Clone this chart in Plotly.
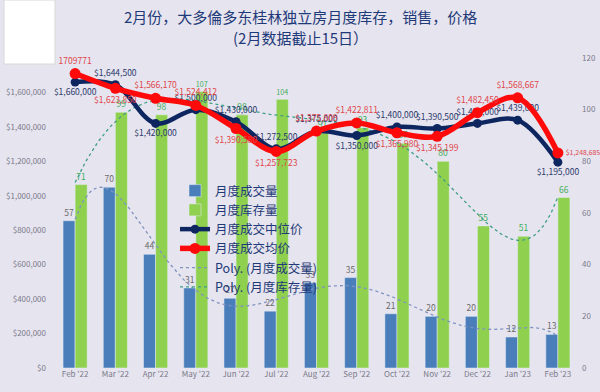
import numpy as np
import plotly.graph_objects as go

months = ["Feb '22", "Mar '22", "Apr '22", "May '22", "Jun '22", "Jul '22", "Aug '22",
          "Sep '22", "Oct '22", "Nov '22", "Dec '22", "Jan '23", "Feb '23"]
sales = [57, 70, 44, 31, 27, 22, 33, 35, 21, 20, 20, 12, 13]
inventory = [71, 99, 98, 107, 98, 104, 91, 93, 87, 80, 55, 51, 66]
median_price = [1660000, 1644500, 1420000, 1500000, 1430000, 1272500, 1375000,
                1350000, 1400000, 1390500, 1420000, 1439000, 1195000]
avg_price = [1709771, 1623850, 1566170, 1524412, 1390580, 1257723, 1375809,
             1422811, 1365980, 1345199, 1482450, 1568667, 1248685]
title_lines = ["2月份，大多倫多东桂林独立房月度库存，销售，价格", "(2月数据截止15日）"]

x = np.arange(len(months))
xf = np.linspace(0, len(months) - 1, 241)
sales_trend = np.polyval(np.polyfit(x, sales, 6), xf)
inv_trend = np.polyval(np.polyfit(x, inventory, 6), xf)

NAVY = "#0d2660"
RED = "#ff0a0a"
BLUE = "#4a7ebb"
GREEN = "#8fd14f"
LBL = "#6b6b6b"
BG = "#e6e4ef"
TICK = "#7a7a8a"

L, R, T, B = 55, 22, 58, 24
PW, PH = 600 - L - R, 392 - T - B

median_text = [f"${v:,}" for v in median_price]
avg_text = [f"${v:,}" for v in avg_price]
avg_text[0] = str(avg_price[0])

median_pos = ["bottom center", "top center", "bottom center", "top center", "top center",
              "top center", "top center", "bottom center", "top center", "top center",
              "top center", "top center", "bottom center"]
avg_pos = ["top center", "bottom center", "top center", "top center", "bottom center",
           "bottom center", "top center", "top center", "bottom center", "bottom center",
           "top center", "top center", "middle right"]
avg_sizes = [8.5] * 12 + [6.9]

fig = go.Figure()

fig.add_trace(go.Bar(x=x, y=sales, name="月度成交量", marker_color=BLUE, yaxis="y",
                     text=sales, textposition="outside", cliponaxis=False,
                     textfont=dict(size=8.5, color=LBL), legendrank=1))
fig.add_trace(go.Bar(x=x, y=inventory, name="月度库存量", marker_color=GREEN, yaxis="y",
                     text=inventory, textposition="outside", cliponaxis=False,
                     textfont=dict(size=8.5, color="#3fae5a"), legendrank=2))
fig.add_trace(go.Scatter(x=xf, y=sales_trend, mode="lines", name="Poly. (月度成交量)",
                         line=dict(color="#7f93c0", width=1.3, dash="dot"), yaxis="y",
                         legendrank=5))
fig.add_trace(go.Scatter(x=xf, y=inv_trend, mode="lines", name="Poly. (月度库存量)",
                         line=dict(color="#3f9e86", width=1.3, dash="dot"), yaxis="y",
                         legendrank=6))
fig.add_trace(go.Scatter(x=x, y=median_price, mode="lines+markers+text", name="月度成交中位价",
                         line=dict(color=NAVY, width=4.5, shape="spline"),
                         marker=dict(size=9, color=NAVY), yaxis="y2",
                         text=median_text, textposition=median_pos, cliponaxis=False,
                         textfont=dict(size=8.5, color="#2b3a6b"), legendrank=3))
fig.add_trace(go.Scatter(x=x, y=avg_price, mode="lines+markers+text", name="月度成交均价",
                         line=dict(color=RED, width=5.5, shape="spline"),
                         marker=dict(size=11, color=RED), yaxis="y2",
                         text=avg_text, textposition=avg_pos, cliponaxis=False,
                         textfont=dict(size=avg_sizes, color="#e0454a"), legendrank=4))

for txt, ypx in zip(title_lines, [17, 37]):
    fig.add_annotation(text=txt, xref="paper", yref="paper",
                       x=(300 - L) / PW, y=(392 - B - ypx) / PH,
                       xanchor="center", yanchor="middle", showarrow=False,
                       font=dict(size=15, color="#1f3a78"))

fig.update_layout(
    width=600, height=392,
    margin=dict(l=L, r=R, t=T, b=B, autoexpand=False),
    paper_bgcolor=BG, plot_bgcolor=BG,
    font=dict(family="Noto Sans CJK SC, Noto Sans, sans-serif", color="#595959"),
    barmode="group", bargap=0.4, bargroupgap=0,
    showlegend=True,
    legend=dict(x=(175 - L) / PW, y=(392 - B - 176) / PH, xanchor="left", yanchor="top",
                bgcolor="rgba(0,0,0,0)", font=dict(size=12.5, color="#1f3a78"),
                tracegroupgap=0),
    xaxis=dict(range=[-0.5, 12.5], tickvals=list(x), ticktext=months, showgrid=False,
               zeroline=False, showline=False, ticks="", automargin=False,
               tickfont=dict(size=8, color=TICK)),
    yaxis=dict(range=[0, 120], dtick=20, side="right", showgrid=False, zeroline=False,
               automargin=False, ticklabelstandoff=3, tickfont=dict(size=8, color=TICK)),
    yaxis2=dict(range=[0, 1800000], dtick=200000, side="left", overlaying="y",
                showgrid=False, zeroline=False, automargin=False,
                ticklabelstandoff=8,
                tickprefix="$", tickformat=",d", tickfont=dict(size=8, color=TICK)),
)

fig.add_shape(type="rect", xref="paper", yref="paper", x0=(4 - L) / PW, x1=(55 - L) / PW,
              y0=(392 - B - 64) / PH, y1=(392 - B - 0) / PH, fillcolor="white",
              line=dict(color="#d8d8d8", width=1), layer="above")

fig.write_html("out.html", config={"displayModeBar": False},
               post_script="document.body.style.margin='0';document.body.style.background='%s';" % BG)
